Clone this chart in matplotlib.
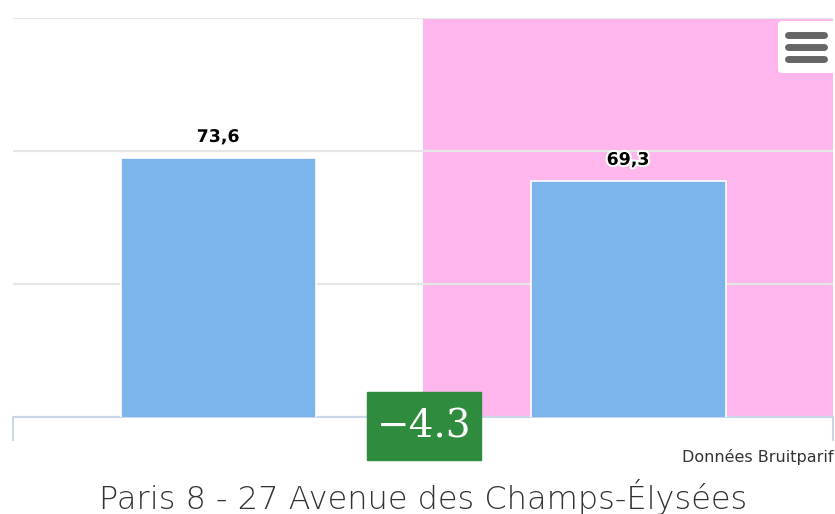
"""Noise level bar chart, Paris 8 - Champs-Élysées (Bruitparif data)."""
import matplotlib

matplotlib.use("Agg")
import matplotlib.pyplot as plt  # noqa: E402
import matplotlib.patheffects as pe  # noqa: E402
from matplotlib.patches import FancyBboxPatch, Rectangle  # noqa: E402

# data
PERIODS = ["Avant", "Après"]
LEVELS = [73.6, 69.3]
Y_TICKS = [25, 50, 75, 100]
TITLE = "Paris 8 - 27 Avenue des Champs-Élysées"
CREDIT = "Données Bruitparif"

W, H = 835, 514
BAR_BLUE = "#7cb5ec"
PINK = "#ffb6ec"
GRID = "#e6e6e6"
AXIS = "#ccd6eb"
GREEN = "#2f8c3e"


def fx(px):
    return px / W


def fy(py):
    return 1 - py / H


fig = plt.figure(figsize=(W / 100, H / 100), dpi=100)
ax = fig.add_axes([fx(13), fy(417), fx(833) - fx(13), fy(18) - fy(417)])

x = list(range(len(PERIODS)))
ax.set_xlim(-0.5, len(PERIODS) - 0.5)
ax.set_ylim(Y_TICKS[0], Y_TICKS[-1])

# highlighted period
ax.axvspan(0.5, 1.5, color=PINK, zorder=0, lw=0)

ax.bar(x, LEVELS, width=195 / 410, color=BAR_BLUE, edgecolor="white", lw=1.2, zorder=3)
for xi, v in zip(x, LEVELS):
    t = ax.annotate(f"{v:.1f}".replace(".", ","), (xi, v), xytext=(0, 9),
                    textcoords="offset points", ha="center", va="bottom",
                    fontsize=12.5, fontweight="bold", color="black", zorder=5)
    t.set_path_effects([pe.withStroke(linewidth=3, foreground="white")])

ax.set_yticks(Y_TICKS)
ax.yaxis.grid(True, color=GRID, lw=1.6, zorder=1)
ax.tick_params(axis="y", left=False, labelleft=False)
ax.set_xticks([i - 0.5 for i in range(len(PERIODS) + 1)])
ax.tick_params(axis="x", labelbottom=False, length=17, width=1.5, color=AXIS, direction="out")
for s in ["top", "left", "right"]:
    ax.spines[s].set_visible(False)
ax.spines["bottom"].set_color(AXIS)
ax.spines["bottom"].set_linewidth(1.5)
ax.set_axisbelow(True)

# difference badge
diff = LEVELS[1] - LEVELS[0]
fig.patches.append(Rectangle((fx(367), fy(460)), fx(481) - fx(367), fy(392) - fy(460),
                             transform=fig.transFigure, color=GREEN, zorder=10))
fig.text(fx(424), fy(427), f"{diff:.1f}".replace("-", "−"), ha="center", va="center",
         color="white", fontsize=28, family="DejaVu Serif", zorder=11)

# credit + title
fig.text(fx(833), fy(457), CREDIT, ha="right", va="center", fontsize=11.5, color="#333333")
fig.text(fx(423), fy(497), TITLE, ha="center", va="center", fontsize=23, color="#333333",
         fontweight="light")

# context menu button
fig.patches.append(FancyBboxPatch((fx(778), fy(73)), fx(62), fy(21) - fy(73),
                                  boxstyle="round,pad=0,rounding_size=0.006",
                                  transform=fig.transFigure, fc="white", ec="none", zorder=10))
for py in (35, 47, 59):
    fig.add_artist(plt.Line2D([fx(788), fx(824)], [fy(py), fy(py)], color="#666666",
                              lw=5, solid_capstyle="round", transform=fig.transFigure, zorder=11))

fig.savefig("out.png", dpi=100)
